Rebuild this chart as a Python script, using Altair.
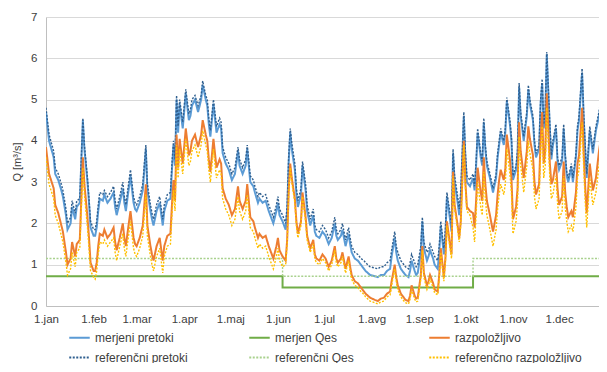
import json
import altair as alt
import pandas as pd

# ---- data (day of year, values in m3/s) ----
days = [
    0, 2, 5, 6, 8, 10, 11, 13, 14, 16,
    17, 19, 20, 22, 23, 24, 25, 27, 28, 29,
    31, 32, 33, 34, 35, 37, 38, 40, 42, 44,
    45, 46, 48, 50, 51, 52, 53, 55, 57, 58,
    59, 61, 63, 65, 66, 68, 69, 70, 72, 74,
    76, 77, 79, 81, 82, 83, 84, 85, 86, 87,
    89, 91, 93, 94, 95, 97, 99, 101, 102, 104,
    105, 106, 107, 109, 111, 113, 114, 115, 117, 119,
    121, 123, 125, 126, 128, 130, 131, 133, 135, 136,
    138, 139, 141, 143, 145, 147, 148, 150, 151, 152,
    154, 156, 157, 158, 159, 160, 162, 163, 164, 166,
    167, 169, 170, 172, 174, 175, 176, 178, 180, 182,
    184, 186, 188, 189, 190, 192, 193, 195, 197, 198,
    199, 201, 203, 205, 207, 208, 211, 214, 216, 218,
    220, 222, 224, 225, 227, 228, 229, 231, 233, 234,
    236, 237, 238, 240, 241, 242, 244, 245, 246, 248,
    249, 250, 252, 253, 255, 256, 257, 259, 260, 261,
    263, 264, 265, 266, 268, 269, 270, 272, 273, 274,
    276, 278, 279, 280, 281, 283, 284, 285, 286, 287,
    289, 291, 293, 294, 295, 296, 298, 299, 300, 302,
    303, 304, 306, 307, 308, 309, 310, 311, 313, 314,
    315, 317, 318, 319, 321, 322, 323, 324, 325, 326,
    328, 329, 330, 332, 333, 334, 336, 337, 338, 339,
    340, 342, 343, 345, 346, 347, 349, 350, 351, 352,
    354, 356, 358, 360, 362, 363, 364,
]

merjeni_pretoki = [
    4.7, 4.0, 3.6, 3.2, 3.05, 2.8, 2.65, 2.2, 1.85, 2.0,
    2.4, 2.1, 2.4, 2.5, 3.5, 4.5, 3.8, 3.0, 2.5, 1.9,
    1.7, 1.7, 1.9, 2.3, 2.6, 2.55, 2.7, 2.5, 2.6, 2.75,
    2.4, 2.2, 2.5, 2.85, 2.5, 2.3, 2.6, 3.15, 2.5, 2.35,
    2.3, 2.5, 2.8, 3.8, 2.8, 2.3, 2.1, 1.95, 2.3, 2.5,
    1.95, 2.3, 2.55, 2.6, 3.3, 3.9, 3.4, 5.0, 4.2, 4.9,
    4.3, 5.15, 4.5, 4.6, 4.85, 5.0, 4.7, 5.0, 5.35, 5.0,
    4.85, 4.4, 4.1, 4.9, 4.2, 4.4, 4.3, 3.7, 3.45, 3.3,
    3.05, 3.2, 3.75, 3.4, 3.2, 3.4, 3.8, 3.0, 2.9, 2.75,
    2.5, 2.6, 2.5, 2.55, 2.3, 2.1, 2.0, 2.3, 2.5, 2.2,
    2.05, 1.85, 2.3, 3.5, 4.2, 3.8, 3.3, 2.7, 2.4, 2.7,
    3.4, 2.8, 2.3, 1.95, 2.2, 1.8, 1.7, 1.65, 1.8, 1.7,
    1.5, 1.65, 2.0, 1.7, 1.6, 1.7, 1.85, 1.45, 1.75, 1.5,
    1.3, 1.15, 1.1, 1.0, 0.9, 0.85, 0.75, 0.72, 0.7, 0.75,
    0.75, 0.85, 0.9, 1.2, 1.65, 1.3, 1.1, 0.9, 0.8, 0.75,
    0.7, 0.85, 1.1, 0.85, 0.75, 0.8, 1.3, 2.05, 1.4, 1.1,
    1.2, 1.35, 1.15, 1.0, 0.9, 1.3, 1.95, 1.25, 1.7, 2.65,
    2.1, 1.8, 3.7, 3.0, 2.5, 2.2, 2.6, 4.6, 3.6, 3.0,
    2.9, 3.1, 2.8, 3.4, 4.2, 3.6, 3.4, 4.45, 3.8, 3.4,
    3.1, 2.75, 3.1, 3.6, 3.9, 4.2, 3.9, 4.2, 4.95, 4.4,
    4.0, 3.05, 3.3, 3.7, 5.3, 4.6, 4.3, 4.0, 4.6, 5.25,
    4.9, 4.5, 3.9, 3.6, 3.8, 4.9, 5.4, 4.3, 4.6, 6.1,
    4.3, 3.55, 3.9, 4.3, 3.5, 3.3, 3.5, 4.3, 3.6, 3.15,
    3.0, 3.35, 3.0, 3.6, 4.25, 4.5, 5.65, 4.6, 3.8, 3.1,
    4.25, 3.7, 4.25, 4.6, 5.1, 5.35, 4.5,
]

referencni_pretoki = [
    4.8, 4.15, 3.75, 3.35, 3.2, 2.95, 2.8, 2.35, 2.0, 2.15,
    2.55, 2.25, 2.55, 2.6, 3.6, 4.55, 3.9, 3.1, 2.6, 2.05,
    1.85, 1.85, 2.05, 2.45, 2.75, 2.7, 2.8, 2.65, 2.75, 2.9,
    2.55, 2.35, 2.65, 3.0, 2.65, 2.45, 2.75, 3.3, 2.65, 2.5,
    2.45, 2.65, 2.95, 3.9, 2.95, 2.45, 2.25, 2.1, 2.45, 2.65,
    2.1, 2.45, 2.7, 2.75, 3.45, 4.0, 3.55, 5.1, 4.35, 5.0,
    4.45, 5.25, 4.65, 4.75, 5.0, 5.1, 4.85, 5.1, 5.45, 5.1,
    5.0, 4.55, 4.25, 5.0, 4.35, 4.55, 4.45, 3.85, 3.6, 3.45,
    3.2, 3.35, 3.85, 3.55, 3.35, 3.55, 3.9, 3.15, 3.05, 2.9,
    2.65, 2.75, 2.65, 2.7, 2.45, 2.25, 2.15, 2.45, 2.65, 2.35,
    2.2, 2.0, 2.45, 3.65, 4.3, 3.95, 3.45, 2.85, 2.55, 2.85,
    3.5, 2.95, 2.45, 2.1, 2.35, 1.95, 1.85, 1.8, 1.95, 1.85,
    1.65, 1.8, 2.15, 1.85, 1.75, 1.85, 2.0, 1.6, 1.9, 1.65,
    1.45, 1.3, 1.25, 1.15, 1.1, 1.05, 0.95, 0.92, 0.9, 0.95,
    0.95, 1.05, 1.1, 1.35, 1.8, 1.45, 1.3, 1.1, 1.0, 0.95,
    0.9, 1.05, 1.25, 1.05, 0.95, 1.0, 1.45, 2.15, 1.55, 1.3,
    1.35, 1.5, 1.3, 1.2, 1.1, 1.45, 2.05, 1.4, 1.85, 2.75,
    2.25, 1.95, 3.8, 3.15, 2.65, 2.35, 2.75, 4.7, 3.75, 3.15,
    3.05, 3.2, 2.9, 3.5, 4.3, 3.7, 3.5, 4.55, 3.9, 3.5,
    3.2, 2.85, 3.2, 3.7, 4.0, 4.3, 4.0, 4.3, 5.05, 4.5,
    4.1, 3.15, 3.4, 3.8, 5.4, 4.7, 4.4, 4.1, 4.7, 5.35,
    5.0, 4.6, 4.0, 3.7, 3.9, 5.0, 5.5, 4.4, 4.7, 6.15,
    4.4, 3.65, 4.0, 4.4, 3.6, 3.4, 3.6, 4.4, 3.7, 3.25,
    3.1, 3.45, 3.1, 3.7, 4.35, 4.6, 5.75, 4.7, 3.9, 3.2,
    4.35, 3.8, 4.35, 4.7, 5.2, 5.45, 4.6,
]

razpolozljivo = [
    3.85, 3.2, 2.85, 2.45, 2.25, 1.95, 1.8, 1.3, 1.0, 1.15,
    1.55, 1.2, 1.5, 1.6, 2.6, 3.6, 2.95, 2.15, 1.65, 1.05,
    0.85, 0.85, 1.05, 1.45, 1.75, 1.7, 1.85, 1.65, 1.75, 1.9,
    1.55, 1.35, 1.65, 2.0, 1.65, 1.45, 1.75, 2.3, 1.65, 1.5,
    1.45, 1.65, 1.95, 2.95, 1.95, 1.45, 1.25, 1.1, 1.45, 1.65,
    1.1, 1.45, 1.7, 1.75, 2.45, 3.05, 2.55, 4.15, 3.35, 4.05,
    3.45, 4.3, 3.65, 3.75, 4.0, 4.15, 3.85, 4.15, 4.5, 4.15,
    4.0, 3.55, 3.25, 4.05, 3.35, 3.55, 3.45, 2.85, 2.6, 2.45,
    2.2, 2.35, 2.9, 2.55, 2.35, 2.55, 2.95, 2.15, 2.05, 1.9,
    1.65, 1.75, 1.65, 1.7, 1.45, 1.25, 1.15, 1.45, 1.65, 1.35,
    1.2, 1.1, 1.6, 2.8, 3.45, 3.1, 2.6, 2.05, 1.75, 2.05,
    2.75, 2.15, 1.7, 1.4, 1.6, 1.25, 1.15, 1.1, 1.25, 1.15,
    0.95, 1.1, 1.45, 1.15, 1.05, 1.15, 1.3, 0.9, 1.2, 0.95,
    0.75, 0.6, 0.55, 0.45, 0.35, 0.3, 0.2, 0.15, 0.12, 0.18,
    0.2, 0.3, 0.35, 0.6, 1.0, 0.7, 0.5, 0.3, 0.2, 0.15,
    0.12, 0.25, 0.5, 0.25, 0.18, 0.2, 0.75, 1.45, 0.8, 0.5,
    0.6, 0.75, 0.55, 0.4, 0.35, 0.75, 1.4, 0.7, 1.15, 2.05,
    1.5, 1.25, 3.25, 2.45, 1.95, 1.65, 2.05, 4.0, 3.0, 2.4,
    2.3, 2.25, 1.9, 2.55, 3.35, 2.75, 2.55, 3.6, 2.95, 2.55,
    2.2, 1.8, 2.2, 2.7, 3.05, 3.3, 3.05, 3.3, 4.15, 3.55,
    3.1, 2.1, 2.4, 2.85, 4.45, 3.75, 3.45, 3.1, 3.75, 4.35,
    4.05, 3.65, 3.0, 2.7, 2.95, 4.05, 4.7, 3.45, 3.75, 5.15,
    3.45, 2.95, 3.05, 3.5, 2.85, 2.45, 2.65, 3.5, 2.75, 2.4,
    2.15, 2.3, 2.15, 2.75, 3.45, 3.65, 4.8, 3.75, 2.9, 2.25,
    3.45, 2.8, 3.1, 3.75, 4.25, 4.5, 3.8,
]

referencno_razpolozljivo = [
    3.6, 2.95, 2.6, 2.2, 2.0, 1.7, 1.55, 1.05, 0.75, 0.9,
    1.3, 0.95, 1.3, 1.4, 2.35, 3.35, 2.7, 1.9, 1.4, 0.85,
    0.7, 0.65, 0.85, 1.25, 1.55, 1.5, 1.6, 1.45, 1.55, 1.65,
    1.3, 1.1, 1.45, 1.75, 1.4, 1.2, 1.5, 2.05, 1.4, 1.25,
    1.2, 1.4, 1.7, 2.7, 1.7, 1.2, 1.0, 0.85, 1.2, 1.4,
    0.8, 1.2, 1.45, 1.5, 2.2, 2.8, 2.3, 3.9, 3.1, 3.8,
    3.2, 4.05, 3.4, 3.5, 3.75, 3.9, 3.6, 3.9, 4.25, 3.9,
    3.75, 3.3, 3.0, 3.8, 3.1, 3.3, 3.2, 2.6, 2.35, 2.2,
    1.95, 2.1, 2.65, 2.3, 2.1, 2.3, 2.7, 1.9, 1.8, 1.65,
    1.4, 1.5, 1.4, 1.45, 1.2, 1.0, 0.9, 1.2, 1.4, 1.1,
    0.95, 1.0, 1.5, 2.7, 3.35, 3.0, 2.5, 1.95, 1.65, 1.95,
    2.65, 2.05, 1.6, 1.3, 1.5, 1.15, 1.05, 1.0, 1.15, 1.05,
    0.85, 1.0, 1.35, 1.05, 0.95, 1.05, 1.2, 0.8, 1.1, 0.85,
    0.65, 0.5, 0.45, 0.35, 0.28, 0.22, 0.12, 0.08, 0.05, 0.1,
    0.12, 0.22, 0.27, 0.5, 0.9, 0.6, 0.4, 0.22, 0.12, 0.08,
    0.05, 0.17, 0.4, 0.17, 0.1, 0.12, 0.65, 1.35, 0.7, 0.4,
    0.5, 0.65, 0.45, 0.32, 0.27, 0.65, 1.3, 0.6, 1.05, 1.95,
    1.4, 1.15, 3.15, 2.35, 1.85, 1.55, 1.95, 3.9, 2.9, 2.3,
    2.2, 1.9, 1.55, 2.2, 3.0, 2.4, 2.2, 3.25, 2.6, 2.2,
    1.85, 1.45, 1.85, 2.35, 2.7, 2.95, 2.7, 2.95, 3.8, 3.2,
    2.75, 1.75, 2.05, 2.5, 4.1, 3.4, 3.1, 2.75, 3.4, 4.0,
    3.7, 3.3, 2.65, 2.35, 2.6, 3.7, 4.35, 3.1, 3.4, 4.8,
    3.1, 2.6, 2.7, 3.15, 2.5, 2.1, 2.3, 3.15, 2.4, 2.05,
    1.8, 1.95, 1.8, 2.4, 3.1, 3.3, 4.45, 3.4, 2.55, 1.9,
    3.1, 2.45, 2.75, 3.4, 3.9, 4.15, 3.45,
]

# ecological flow (Qes) steps
qes_days = [0, 154, 278, 364]
merjen_qes = [0.72, 0.45, 0.72, 0.72]
referencni_qes = [1.15, 0.72, 1.15, 1.15]

series_names = [
    "merjeni pretoki", "merjen Qes", "razpoložljivo",
    "referenčni pretoki", "referenčni Qes", "referenčno razpoložljivo",
]
series_colors = ["#5B9BD5", "#70AD47", "#ED7D31", "#2F5F8F", "#A9D18E", "#FFC000"]
series_dash = [[1, 0], [1, 0], [1, 0], [2, 1.5], [2, 1.5], [2, 1.5]]

month_days = [0, 31, 59, 90, 120, 151, 181, 212, 243, 273, 304, 334]
month_labels = ["1.jan", "1.feb", "1.mar", "1.apr", "1.maj", "1.jun",
                "1.jul", "1.avg", "1.sep", "1.okt", "1.nov", "1.dec"]

# ---- build long table ----
frames = []
for name, vals in [("merjeni pretoki", merjeni_pretoki),
                   ("referenčni pretoki", referencni_pretoki),
                   ("razpoložljivo", razpolozljivo),
                   ("referenčno razpoložljivo", referencno_razpolozljivo)]:
    frames.append(pd.DataFrame({"day": days, "value": vals, "series": name}))
for name, vals in [("merjen Qes", merjen_qes), ("referenčni Qes", referencni_qes)]:
    frames.append(pd.DataFrame({"day": qes_days, "value": vals, "series": name}))
df = pd.concat(frames, ignore_index=True)

FONT = "Liberation Sans"
label_expr = "%s[indexof(%s, datum.value)]" % (json.dumps(month_labels), json.dumps(month_days))

x_enc = alt.X(
    "day:Q",
    scale=alt.Scale(domain=[0, 360], nice=False, zero=False),
    axis=alt.Axis(values=month_days, labelExpr=label_expr, title=None, grid=False,
                  ticks=False, domainColor="#BFBFBF", labelColor="#404040",
                  labelFontSize=11.5, labelPadding=7, labelFont=FONT, labelFlush=False),
)
y_enc = alt.Y(
    "value:Q",
    scale=alt.Scale(domain=[0, 7], nice=False),
    axis=alt.Axis(values=list(range(8)), title="Q [m³/s]", grid=True, gridColor="#D9D9D9",
                  ticks=False, domainColor="#BFBFBF", labelColor="#404040",
                  labelFontSize=11.5, labelPadding=9, labelFont=FONT,
                  titleFont=FONT, titleFontSize=11, titleFontWeight="normal",
                  titleColor="#404040", titlePadding=8),
)

legend = alt.Legend(title=None, orient="none", legendX=22, legendY=309, columns=3,
                    direction="horizontal",
                    symbolType="stroke", symbolSize=420, symbolStrokeWidth=2,
                    labelFont=FONT, labelFontSize=12, labelColor="#404040",
                    gridAlign="all", columnPadding=23, rowPadding=2, labelLimit=300,
                    labelOffset=4)

color_enc = alt.Color("series:N", scale=alt.Scale(domain=series_names, range=series_colors),
                      legend=legend)
dash_enc = alt.StrokeDash("series:N", scale=alt.Scale(domain=series_names, range=series_dash),
                          legend=legend)

draw_order = [
    ("merjeni pretoki", 2, "linear"),
    ("referenčni pretoki", 1.4, "linear"),
    ("merjen Qes", 2, "step-after"),
    ("referenčni Qes", 1.4, "step-after"),
    ("razpoložljivo", 2, "linear"),
    ("referenčno razpoložljivo", 1.4, "linear"),
]

layers = []
for name, w, interp in draw_order:
    layers.append(
        alt.Chart(df).transform_filter(alt.datum.series == name)
        .mark_line(strokeWidth=w, interpolate=interp, clip=True)
        .encode(x=x_enc, y=y_enc, color=color_enc, strokeDash=dash_enc)
    )

chart = alt.layer(*layers).properties(
    width=553, height=289,
    autosize=alt.AutoSizeParams(type="none"),
    padding={"left": 38, "top": 9, "right": 0, "bottom": 57},
    background="white",
).configure_view(stroke=None)

chart.save("out.html", embed_options={"renderer": "svg", "actions": False})
